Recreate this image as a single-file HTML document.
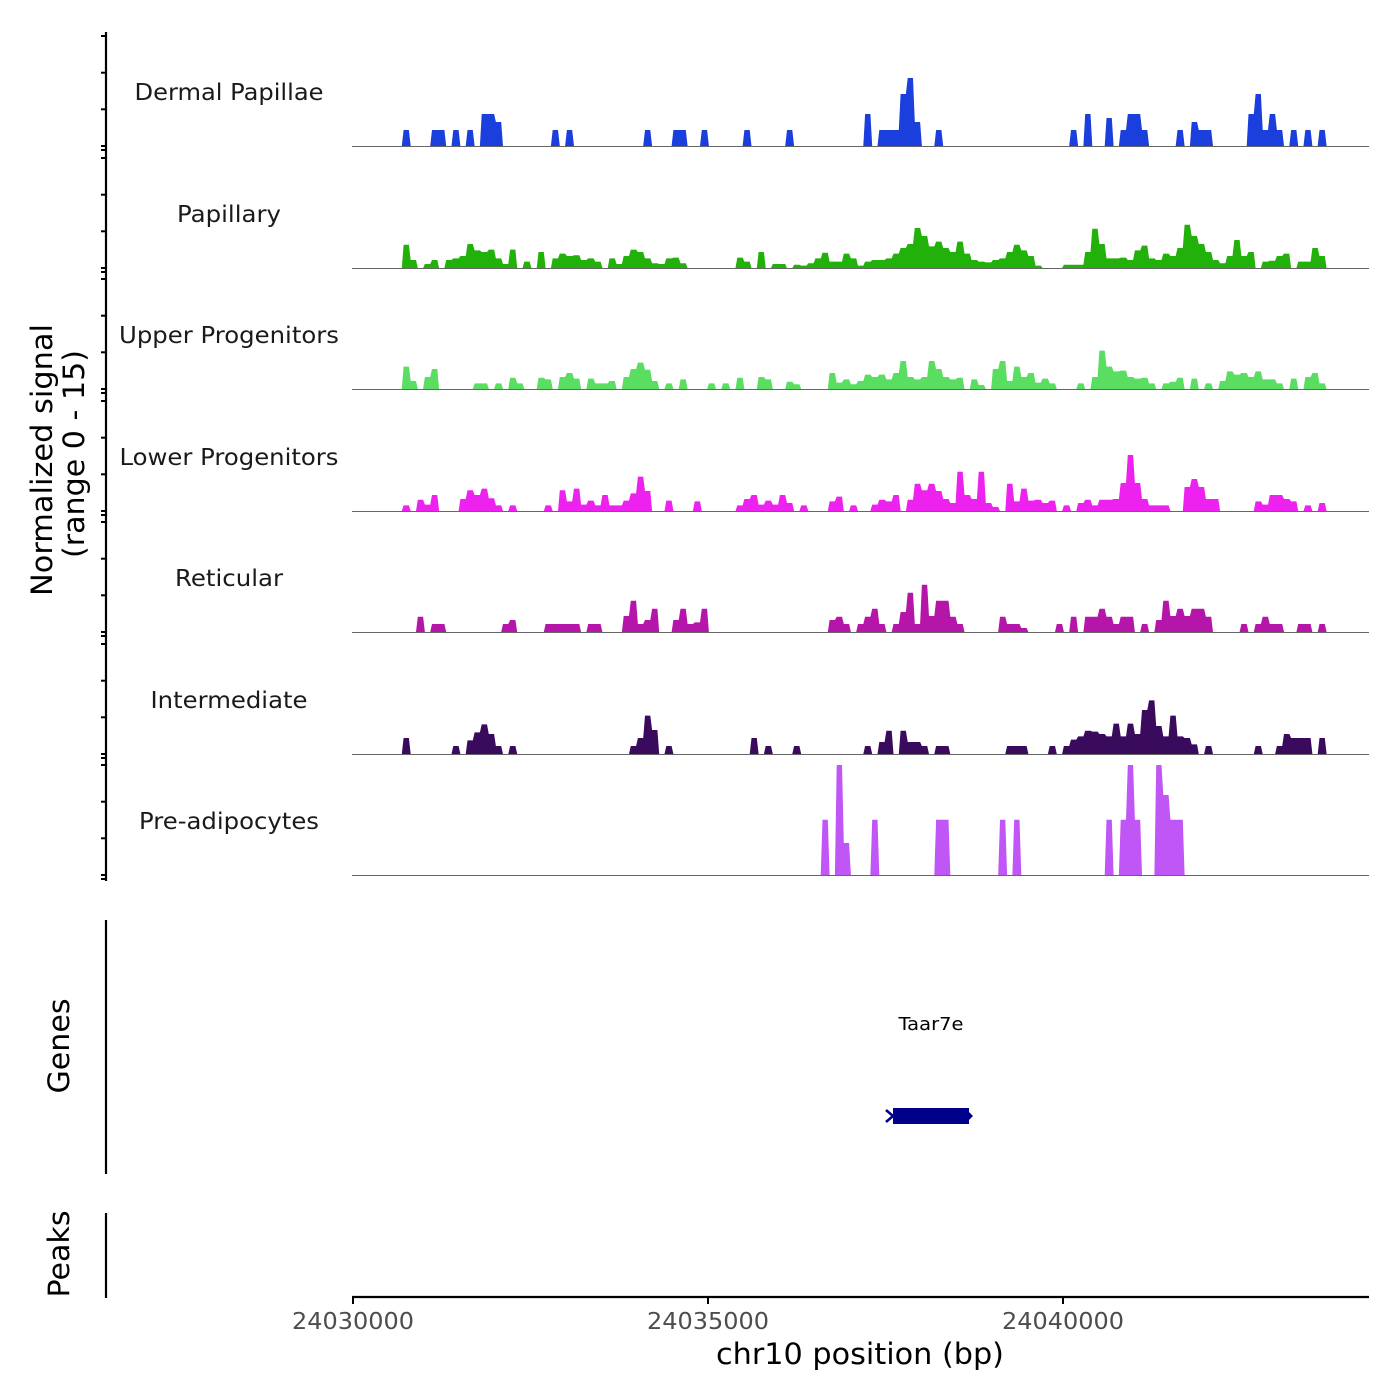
<!DOCTYPE html>
<html><head><meta charset="utf-8"><style>
html,body{margin:0;padding:0;background:#fff;}
svg{display:block;font-family:"DejaVu Sans","Liberation Sans",sans-serif;}
</style></head><body>
<svg id="chart" width="1400" height="1400" viewBox="0 0 1400 1400" xmlns="http://www.w3.org/2000/svg">
<g id="tracks"></g>
<g id="axes">
<line x1="106" y1="32" x2="106" y2="881" stroke="#000" stroke-width="2.2"/>
<line x1="106" y1="920" x2="106" y2="1174" stroke="#000" stroke-width="2.2"/>
<line x1="106" y1="1213" x2="106" y2="1298" stroke="#000" stroke-width="2.2"/>
<line x1="352" y1="1297" x2="1369" y2="1297" stroke="#000" stroke-width="2.2"/>
<text transform="translate(52,460) rotate(-90)" text-anchor="middle" font-size="29" textLength="272" lengthAdjust="spacingAndGlyphs" fill="#000">Normalized signal</text>
<text transform="translate(84,454) rotate(-90)" text-anchor="middle" font-size="29" textLength="208" lengthAdjust="spacingAndGlyphs" fill="#000">(range 0 - 15)</text>
<text transform="translate(69,1046) rotate(-90)" text-anchor="middle" font-size="29" textLength="95" lengthAdjust="spacingAndGlyphs" fill="#000">Genes</text>
<text transform="translate(69,1254) rotate(-90)" text-anchor="middle" font-size="29" textLength="87" lengthAdjust="spacingAndGlyphs" fill="#000">Peaks</text>
<text x="860" y="1364" text-anchor="middle" font-size="29" textLength="288" lengthAdjust="spacingAndGlyphs" fill="#000">chr10 position (bp)</text>
</g>
<g id="gene">
<text x="931" y="1030" text-anchor="middle" font-size="18" textLength="65" lengthAdjust="spacingAndGlyphs" fill="#000">Taar7e</text>
<rect x="893" y="1108" width="76" height="16" fill="#00008B"/>
<path d="M886 1110 L893 1116 L886 1122" stroke="#00008B" stroke-width="2.5" fill="none"/>
<path d="M969 1112 L973 1116 L969 1120 Z" fill="#00008B"/>
</g>
<script>
const trackNames = ["Dermal Papillae","Papillary","Upper Progenitors","Lower Progenitors","Reticular","Intermediate","Pre-adipocytes"];
const trackColors = ["#1a3fdd","#22b00a","#5ade62","#ee22ee","#b515a8","#3a0a5c","#c056f5"];
const xTicks = [24030000,24035000,24040000];
const xTickLabels = ["24030000","24035000","24040000"];
const binStart = 24030000;
const binSize = 100;

const dpBins = [7,11,12,14,16,18,19,20,28,30,41,45,46,49,55,61,72,74,75,76,77,78,79,82,101,103,106,108,109,110,111,116,118,119,120,126,127,128,129,130,132,134,136];
const dpVals = [2,2,2,2,2,4,4,3,2,2,2,2,2,2,2,2,4,2,2,2,6.5,8.5,3,2,2,4,3.5,2,4,4,2,2,3,2,2,4,6.5,2,4,2,2,2,2];

const paBins = [7,8,10,11,13,14,15,16,17,18,19,20,21,22,24,26,28,29,30,31,32,33,34,36,37,38,39,40,41,42,43,44,45,46,54,55,57,59,60,62,63,64,65,66,67,68,69,70,71,72,73,74,75,76,77,78,79,80,81,82,83,84,85,86,87,88,89,90,91,92,93,94,95,96,100,101,102,103,104,105,106,107,108,109,110,111,112,113,114,115,116,117,118,119,120,121,122,123,124,125,126,128,129,130,131,133,134,135,136];
const paVals = [2.9,1,0.5,1,1,1.2,1.5,3,2.2,2,2.3,1.2,0.5,2.3,0.8,2,1.2,1.8,1.5,1.6,1,1.2,0.8,1.2,0.5,1.5,2.3,2,1.2,0.6,0.5,1.2,1.3,0.6,1.3,0.8,2,0.5,0.5,0.4,0.3,0.6,1.2,1.9,0.8,0.8,1.8,1.2,0.3,0.8,1,1,1.2,1.8,2.5,3,5,4,2.7,3.3,2.5,2,3.3,1.8,1,0.8,0.7,1,1.2,2,2.9,2.2,1.5,0.3,0.4,0.4,0.4,2,4.9,3,1.2,1.2,1.3,1,2.2,2.8,1.2,1,1.8,1.5,2.5,5.4,4,3,2,1,0.6,1.5,3.5,1.5,2,0.8,0.9,1.5,1.8,0.8,0.8,2.5,1.5];

const upBins = [7,8,10,11,17,18,20,22,23,26,27,29,30,31,33,34,35,36,38,39,40,41,42,44,46,50,52,54,57,58,61,62,67,68,69,70,71,72,73,74,75,76,77,78,79,80,81,82,83,84,85,87,88,90,91,92,93,94,95,96,97,98,102,104,105,106,107,108,109,110,111,112,114,115,116,118,120,122,123,124,125,126,127,128,129,130,132,134,135,136];
const upVals = [2.8,1,1.5,2.5,0.7,0.7,0.7,1.4,0.7,1.4,1.2,1.5,2,1.3,1.3,0.7,0.7,1,1.5,2.5,3.3,2.4,1,0.7,1.2,0.7,0.7,1.4,1.5,1.2,0.9,0.6,2,0.8,1.2,0.6,1,1.8,1.5,1.8,1.2,2,3.5,1.5,1.2,1.5,3.5,2.5,1.5,1.2,1.4,1.2,0.5,2.5,3.5,1,2.8,1.5,2,0.8,1.3,0.7,0.7,1.5,4.8,2.8,2.2,2.3,1.5,1.3,1.4,0.7,0.7,0.9,1.4,1.3,0.7,1,2.2,1.8,2,1.5,2.2,1.2,1.2,0.7,1.3,1.5,2,0.7];

const loBins = [7,9,10,11,15,16,17,18,19,20,22,27,29,30,31,32,33,34,35,36,37,38,39,40,41,44,48,54,55,56,57,58,59,60,61,63,67,68,70,73,74,75,76,78,79,80,81,82,83,84,85,86,87,88,89,90,92,93,94,95,96,97,98,100,102,103,104,105,106,107,108,109,110,111,112,113,114,117,118,119,120,121,127,128,129,130,131,132,134,136];
const loVals = [0.7,1.4,0.8,2,1.5,2.6,2,2.8,1.6,0.7,0.7,0.7,2.6,1.2,2.8,0.8,1.3,0.7,2,0.7,0.7,1.3,2.2,4.3,2.5,1.3,1.2,0.7,1.5,2,0.8,1.3,0.8,2,1,0.7,1.2,1.8,0.7,0.8,1.4,1.2,2,1.4,3.4,2.6,3.4,2.5,1.5,1,4.9,2,1.5,4.9,1,0.5,3.4,1.2,2.8,1.3,1.4,1,1.3,0.7,1,1.4,0.7,1.4,1.4,1.5,3.5,7,3.5,1.5,0.7,0.7,0.7,3,4,3,1.5,1.5,1.2,0.8,2,2,1.5,1.2,0.7,1];

const reBins = [9,11,12,21,22,27,28,29,30,31,33,34,38,39,40,41,42,45,46,47,48,49,67,68,69,71,72,73,74,76,77,78,79,80,81,82,83,84,85,91,92,93,94,99,101,103,104,105,106,107,108,109,111,113,114,115,116,117,118,119,120,125,127,128,129,130,133,134,136];
const reVals = [1.9,1,1,1,1.5,1,1,1,1,1,1,1,2,3.9,1,1.5,2.9,1.5,2.9,1,1.2,2.9,1.5,1.9,1,1,1.9,2.9,1,1,2.5,4.9,1,5.9,2,3.9,3.9,1.9,1,1.9,1,1,0.5,1,1.9,1.9,1.9,2.9,1.9,1,1.9,1.9,1,1.5,3.9,2,2.9,2,2.9,2.9,1.9,1,1,1.9,1,1,1,1,1];

const inBins = [7,14,16,17,18,19,20,22,39,40,41,42,44,56,58,62,72,74,75,77,78,79,80,82,83,92,93,94,98,100,101,102,103,104,105,106,107,108,109,110,111,112,113,114,115,116,117,118,120,127,130,131,132,133,134,136];
const inVals = [2,1,1.7,2.7,3.7,2.5,1,1,1,2,4.8,3,1,2,1,1,1,1.5,2.9,2.9,1.5,1.5,1,1,1,1,1,1,1,1,1.8,2.2,2.9,2.8,2.5,2.2,3.8,2.2,3.8,2.5,5.5,6.7,3.5,2.2,4.8,2.2,2,1.2,1,1,1,2.5,2,2,2,2];

const adBins = [66,68,69,73,82,83,91,93,106,108,109,110,113,114,115,116];
const adVals = [6.9,13.75,4,6.9,6.9,6.9,6.9,6.9,6.9,6.9,13.75,6.9,13.75,10,6.9,6.9];

const trackBins = [dpBins,paBins,upBins,loBins,reBins,inBins,adBins];
const trackVals = [dpVals,paVals,upVals,loVals,reVals,inVals,adVals];
const trackBaselines = [146,268,389,511,632,754,875];
const labelWidths = [189,104,220,219,108,157,180];

const NS = "http://www.w3.org/2000/svg";
const X0 = 353, PXPERBP = 0.071, XEND = 1368, PXPERUNIT = 8;
function xs(bp){ return X0 + (bp - 24030000) * PXPERBP; }
function ys(v, base){ return base - Math.min(v, 15) * PXPERUNIT; }

const tracksG = document.getElementById('tracks');
const axesG = document.getElementById('axes');
trackNames.forEach((name, t) => {
  const base = trackBaselines[t];
  const g = document.createElementNS(NS, 'g');
  
  
  const lab = document.createElementNS(NS, 'text');
  
  
  lab.setAttribute('x', 229); lab.setAttribute('y', base - 46);
  lab.setAttribute('text-anchor', 'middle'); lab.setAttribute('font-size', '23');
  lab.setAttribute('textLength', labelWidths[t]);
  lab.setAttribute('lengthAdjust', 'spacingAndGlyphs');
  lab.setAttribute('fill', '#1a1a1a');
  lab.textContent = name;
  g.appendChild(lab);
  const map = {};
  trackBins[t].forEach((b, i) => { map[b] = trackVals[t][i]; });
  const nb = Math.ceil((XEND - X0) / (binSize * PXPERBP));
  let d = 'M' + X0 + ' ' + base;
  for (let i = 0; i < nb; i++) {
    const v = map[i] || 0;
    const a = xs(binStart + i * binSize), b = xs(binStart + (i + 1) * binSize);
    const y = ys(v, base);
    d += ' L' + (a + 0.9).toFixed(2) + ' ' + y.toFixed(2) + ' L' + (b - 0.9).toFixed(2) + ' ' + y.toFixed(2);
  }
  d += ' L' + XEND + ' ' + base + ' Z';
  const p = document.createElementNS(NS, 'path');
  
  
  p.setAttribute('d', d); p.setAttribute('fill', trackColors[t]);
  g.appendChild(p);
  const bl = document.createElementNS(NS, 'line');
  
  
  bl.setAttribute('x1', 352); bl.setAttribute('x2', 1369);
  bl.setAttribute('y1', base + 0.5); bl.setAttribute('y2', base + 0.5);
  bl.setAttribute('stroke', '#666'); bl.setAttribute('stroke-width', '1');
  g.appendChild(bl);
  tracksG.appendChild(g);
  [0, 36.7, 73.3, 110].forEach(off => {
    const tk = document.createElementNS(NS, 'line');
    
    
    tk.setAttribute('x1', 101); tk.setAttribute('x2', 106);
    tk.setAttribute('y1', base - off); tk.setAttribute('y2', base - off);
    tk.setAttribute('stroke', '#000'); tk.setAttribute('stroke-width', '2');
    axesG.appendChild(tk);
  });
  const tk2 = document.createElementNS(NS, 'line');
  
  
  tk2.setAttribute('x1', 101); tk2.setAttribute('x2', 106);
  tk2.setAttribute('y1', base + 4); tk2.setAttribute('y2', base + 4);
  tk2.setAttribute('stroke', '#000'); tk2.setAttribute('stroke-width', '2');
  axesG.appendChild(tk2);
});
xTicks.forEach((v, i) => {
  const x = xs(v);
  const tk = document.createElementNS(NS, 'line');
  
  
  tk.setAttribute('x1', x); tk.setAttribute('x2', x);
  tk.setAttribute('y1', 1297); tk.setAttribute('y2', 1304);
  tk.setAttribute('stroke', '#000'); tk.setAttribute('stroke-width', '2');
  axesG.appendChild(tk);
  const tl = document.createElementNS(NS, 'text');
  
  
  tl.setAttribute('x', x); tl.setAttribute('y', 1329);
  tl.setAttribute('text-anchor', 'middle'); tl.setAttribute('font-size', '23');
  tl.setAttribute('textLength', '122');
  tl.setAttribute('lengthAdjust', 'spacingAndGlyphs');
  tl.setAttribute('fill', '#4d4d4d');
  tl.textContent = xTickLabels[i];
  axesG.appendChild(tl);
});
</script>
</svg>
</body></html>
